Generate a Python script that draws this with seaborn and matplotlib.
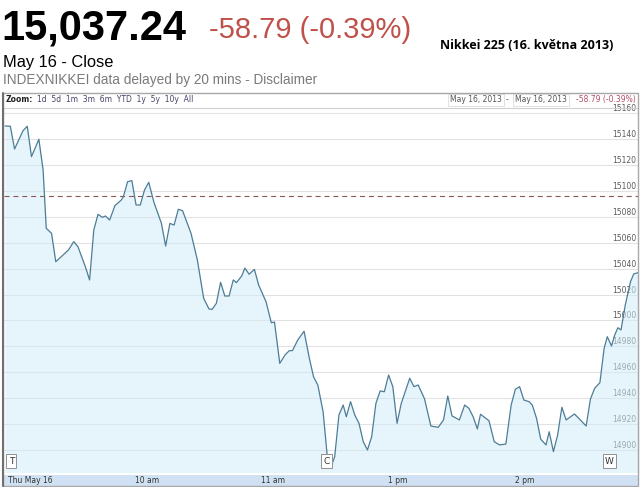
import matplotlib
matplotlib.use("Agg")
import matplotlib.pyplot as plt
import matplotlib.transforms as mtransforms
from matplotlib.patches import Rectangle
from matplotlib.lines import Line2D
import pandas as pd
import seaborn as sns

# trading minutes after the 9:00 open (lunch break squeezed out)
minutes = [0, 2.5, 4.5, 8.5, 10.5, 12.5, 16, 18, 19.5, 22, 24, 30, 32.5, 34.5, 38, 40,
           42, 44, 46, 47.5, 49.5, 52, 55, 56, 58, 60, 62, 64, 66, 68, 70.5, 74, 76,
           78, 80, 82, 84, 88, 91, 94, 96.5, 98, 100, 102, 104, 106, 108, 109.5, 112,
           113.5, 115.5, 118, 120, 123.5, 126, 127.5, 130, 132.5, 134.5, 136, 138.5,
           141.5, 144, 146, 148, 149, 150.5, 152.5, 154.5, 156, 158, 160, 161.5, 163.5,
           165.5, 167.5, 169.5, 171.5, 173.5, 175.5, 177.5, 179.5, 181.5, 183.5, 185.5,
           187.5, 191.5, 193.5, 195.5, 198.5, 201.5, 205, 207.5, 209.5, 211.5, 215,
           217.5, 219.5, 221.5, 223.5, 225, 229, 231.5, 234, 237, 239.5, 241.5, 243.5,
           245.5, 248, 249.5, 251.5, 253.5, 256, 257.5, 259.5, 261.5, 263.5, 265.5,
           269.5, 275, 277, 279, 281.5, 283.5, 285, 287, 288.5, 290, 291.5, 293.5, 296,
           297.5, 300]
prices = [15150.2, 15150.0, 15132.4, 15146.6, 15150.0, 15126.5, 15140.0, 15116.2, 15071.2,
          15067.3, 15045.4, 15054.4, 15060.9, 15057.0, 15041.5, 15031.3, 15069.9, 15082.0,
          15079.7, 15080.7, 15077.6, 15088.7, 15093.0, 15095.6, 15107.2, 15108.0, 15089.2,
          15089.2, 15100.8, 15106.7, 15091.0, 15075.0, 15057.5, 15075.0, 15073.7, 15085.9,
          15084.8, 15067.3, 15046.7, 15017.1, 15008.9, 15008.6, 15013.3, 15029.5, 15018.9,
          15018.9, 15031.3, 15029.2, 15034.4, 15040.5, 15035.7, 15039.5, 15027.4, 15014.5,
          14998.3, 14998.8, 14966.9, 14973.4, 14976.7, 14976.7, 14984.9, 14991.7, 14970.8,
          14956.5, 14950.2, 14942.0, 14929.6, 14894.8, 14888.0, 14894.8, 14927.0, 14934.7,
          14925.7, 14937.3, 14927.0, 14920.6, 14906.4, 14900.0, 14910.3, 14936.0, 14945.6,
          14945.0, 14957.9, 14948.9, 14920.6, 14936.0, 14955.4, 14948.9, 14950.2, 14939.5,
          14918.5, 14917.5, 14923.2, 14941.7, 14926.3, 14923.2, 14934.7, 14932.2, 14925.7,
          14916.2, 14927.6, 14922.6, 14906.4, 14903.9, 14904.6, 14934.7, 14946.9, 14948.9,
          14938.6, 14937.3, 14934.7, 14924.5, 14908.3, 14903.9, 14914.1, 14898.7, 14911.6,
          14933.0, 14923.2, 14927.8, 14918.5, 14939.2, 14947.6, 14952.0, 14978.5, 14987.5,
          14980.3, 14988.8, 14994.4, 14992.7, 15012.0, 15030.0, 15035.9, 15037.24]

prev_close = 15096.03
last_text = "15,037.24"
change_text = "-58.79 (-0.39%)"

x_ticks = [0, 60, 120, 150, 180, 240]
x_labels = ["Thu May 16", "10 am", "11 am", "", "1 pm", "2 pm"]
hour_lines = [60, 120, 180, 240]
y_ticks = list(range(14900, 15161, 20))
flag_letters = ["T", "C", "W"]
flag_minutes = [3, 152, 286]

df = pd.DataFrame({"minute": minutes, "price": prices})

sns.set_style("white")
plt.rcParams["font.family"] = ["Liberation Sans", "DejaVu Sans"]

W, H = 640, 487
fig = plt.figure(figsize=(6.4, 4.87), dpi=100)
fx = lambda x: x / W
fy = lambda y: 1 - y / H

# x-axis band and outer frame
fig.patches.append(Rectangle((fx(4), fy(486)), fx(635), 11 / H, transform=fig.transFigure,
                             facecolor="#cfe1f3", edgecolor="none", zorder=-1))
fig.patches.append(Rectangle((fx(3), fy(486)), fx(635), 393 / H, transform=fig.transFigure,
                             facecolor="none", edgecolor="#a8a8a8", lw=1, zorder=5))
fig.lines.append(Line2D([fx(3), fx(3)], [fy(486), fy(93)], transform=fig.transFigure,
                        color="#707070", lw=1.5, zorder=6))
fig.lines.append(Line2D([fx(3), fx(638)], [fy(108), fy(108)], transform=fig.transFigure,
                        color="#d0d0d0", lw=0.8, zorder=5))

ax = fig.add_axes([fx(4), 15 / H, fx(635), 364 / H])
ax.fill_between(df["minute"], df["price"], 14800, color="#d2ebf9", alpha=0.55, lw=0, zorder=1)
sns.lineplot(data=df, x="minute", y="price", ax=ax, color="#4c7d96", linewidth=0.9, zorder=3)
ax.axhline(prev_close, color="#8c5757", lw=0.8, ls=(0, (4.5, 3.5)), zorder=2)

ax.set_xlim(-0.5, 300)
ax.set_ylim(14883, 15164.1)
ax.set_xlabel("")
ax.set_ylabel("")
for s in ax.spines.values():
    s.set_visible(False)

ax.set_yticks(y_ticks)
ax.yaxis.tick_right()
ax.set_yticklabels([str(v) for v in y_ticks], ha="right", va="bottom",
                   fontsize=5.5, color="#5a5a5a", family="DejaVu Sans")
ax.tick_params(axis="y", length=0, pad=-2)
ax.grid(axis="y", color="#e2e2e2", lw=0.8, zorder=0)

ax.set_xticks(x_ticks)
ax.set_xticklabels(x_labels, ha="left", fontsize=5.5, color="#333333", family="DejaVu Sans")
ax.tick_params(axis="x", length=2, width=0.6, color="#b0b0b0", pad=0.6)
shift = mtransforms.ScaledTranslation(2 / 72, 0, fig.dpi_scale_trans)
for lbl in ax.get_xticklabels():
    lbl.set_transform(lbl.get_transform() + shift)
ax.set_xticks(hour_lines, minor=True)
ax.tick_params(axis="x", which="minor", length=0)
ax.grid(axis="x", which="minor", color="#f0f2f4", lw=0.8)

# news flags
bt = mtransforms.blended_transform_factory(ax.transData, ax.transAxes)
for letter, m in zip(flag_letters, flag_minutes):
    ax.text(m, 0.03, letter, transform=bt, ha="center", va="center", fontsize=6.5,
            family="DejaVu Sans", color="#333333", zorder=6,
            bbox=dict(boxstyle="square,pad=0.25", fc="white", ec="#909090", lw=0.7))

# header
fig.text(fx(1), fy(40), last_text, fontsize=30, fontweight="bold", color="black", va="baseline")
fig.text(fx(209), fy(38), change_text, fontsize=21, color="#c0514a", va="baseline")
fig.text(fx(440), fy(49), "Nikkei 225 (16. května 2013)", fontsize=9, fontweight="bold",
         family="Open Sans", color="black", va="baseline")
fig.text(fx(3), fy(67), "May 16 - Close", fontsize=11.8, color="black", va="baseline")
fig.text(fx(3), fy(84), "INDEXNIKKEI data delayed by 20 mins - Disclaimer", fontsize=9.8,
         color="#7a7a7a", va="baseline")

# toolbar
fig.text(fx(6), fy(100), "Zoom:", fontsize=5.5, fontweight="bold", family="DejaVu Sans",
         color="#222222", va="center")
fig.text(fx(37), fy(100), "1d  5d  1m  3m  6m  YTD  1y  5y  10y  All", fontsize=5.5,
         family="DejaVu Sans", color="#444466", va="center")
for x0, t in [(450, "May 16, 2013"), (515, "May 16, 2013")]:
    fig.text(fx(x0), fy(100), t, fontsize=5.5, family="DejaVu Sans", color="#555555",
             va="center", bbox=dict(boxstyle="square,pad=0.25", fc="white", ec="#dddddd", lw=0.6))
fig.text(fx(506), fy(100), "-", fontsize=5.5, family="DejaVu Sans", color="#555555", va="center")
fig.text(fx(636), fy(100), change_text, fontsize=5.5, family="DejaVu Sans", color="#b24d66",
         va="center", ha="right")

fig.savefig("out.png", dpi=100)
